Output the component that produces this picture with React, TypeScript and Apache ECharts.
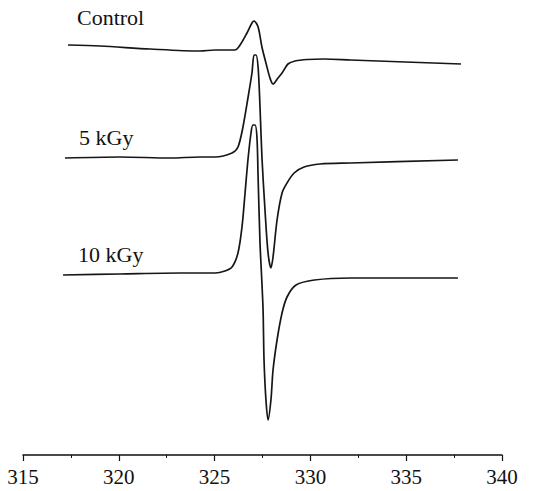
import React, { useEffect, useRef } from "react";
import * as echarts from "echarts";

const fieldTicks = [315, 320, 325, 330, 335, 340];

const controlField = [317.35, 319.02, 321.63, 324.24, 325.02, 326.06, 326.33, 326.69, 326.95, 327.06, 327.27, 327.47, 327.68, 327.89, 328.05, 328.31, 328.52, 328.83, 329.2, 329.83, 330.72, 332.1, 337.86];
const controlSignal = [410, 409, 406, 404, 405, 405, 410, 422, 432, 434, 428, 408, 392, 377, 371, 377, 382, 391, 394, 395.5, 396, 395, 391];

const kgy5Field = [317.19, 320.06, 322.67, 324.24, 325.02, 325.91, 326.22, 326.48, 326.74, 326.95, 327.06, 327.16, 327.27, 327.37, 327.47, 327.63, 327.79, 327.94, 328.05, 328.26, 328.52, 328.78, 329.15, 329.67, 330.5, 332.1, 337.7];
const kgy5Signal = [297, 298, 297, 298, 298, 302, 308, 328, 357, 382, 400, 400, 388, 348, 298, 245, 202, 187, 198, 235, 262, 272, 282, 288, 291, 292, 295];

const kgy10Field = [317.09, 320.06, 323.19, 325.02, 325.54, 325.91, 326.22, 326.43, 326.59, 326.74, 326.9, 327.0, 327.11, 327.21, 327.27, 327.37, 327.45, 327.53, 327.58, 327.68, 327.79, 327.94, 328.05, 328.26, 328.52, 328.78, 329.25, 330.21, 332.1, 337.7];
const kgy10Signal = [180, 181, 182, 182, 184, 188, 202, 228, 262, 295, 322, 330, 330, 318, 278, 212, 180, 145, 95, 55, 35, 55, 85, 115, 142, 158, 170, 175, 177, 177];

const traceLabels = ["Control", "5 kGy", "10 kGy"];

const zip = (xs: number[], ys: number[]) => xs.map((x, i) => [x, ys[i]]);

export default function App() {
  const ref = useRef<HTMLDivElement>(null);
  useEffect(() => {
    if (!ref.current) return;
    const chart = echarts.init(ref.current, null, { renderer: "svg" });
    const font = "Liberation Serif";
    const mkSeries = (name: string, xs: number[], ys: number[]) => ({
      name,
      type: "line",
      data: zip(xs, ys),
      showSymbol: false,
      smooth: 0.3,
      lineStyle: { color: "#161616", width: 1.7 },
    });
    chart.setOption({
      animation: false,
      backgroundColor: "#ffffff",
      grid: { left: 23, right: 36, top: 0, bottom: 36 },
      xAxis: {
        type: "value",
        min: fieldTicks[0],
        max: fieldTicks[fieldTicks.length - 1],
        interval: 5,
        axisLine: { show: true, lineStyle: { color: "#111", width: 1.5 } },
        axisTick: { show: true, inside: false, length: 6, lineStyle: { color: "#111", width: 1.2 } },
        minorTick: { show: true, splitNumber: 2, length: 3, lineStyle: { color: "#111", width: 1 } },
        splitLine: { show: false },
        axisLabel: { color: "#111", fontFamily: font, fontSize: 21, margin: 11 },
      },
      yAxis: { type: "value", min: 0, max: 455, show: false },
      series: [
        mkSeries(traceLabels[0], controlField, controlSignal),
        mkSeries(traceLabels[1], kgy5Field, kgy5Signal),
        mkSeries(traceLabels[2], kgy10Field, kgy10Signal),
      ],
      graphic: [
        { type: "text", left: 77, top: 6, style: { text: traceLabels[0], fontFamily: font, fontSize: 22, fill: "#111" } },
        { type: "text", left: 79, top: 126, style: { text: traceLabels[1], fontFamily: font, fontSize: 22, fill: "#111" } },
        { type: "text", left: 78, top: 243, style: { text: traceLabels[2], fontFamily: font, fontSize: 22, fill: "#111" } },
      ],
    });
    return () => chart.dispose();
  }, []);
  return <div ref={ref} style={{ width: 538, height: 491, position: "absolute", left: 0, top: 0 }} />;
}
